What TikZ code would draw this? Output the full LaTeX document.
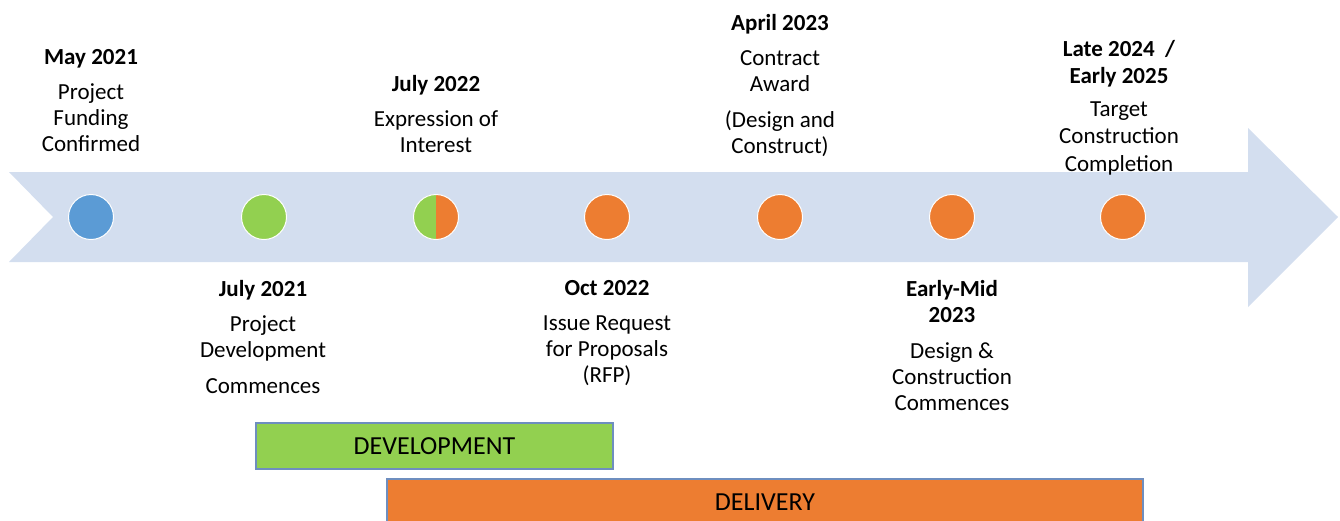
\documentclass[tikz,border=0pt]{standalone}
\usepackage{fontspec}
\setmainfont{Carlito}
\usepackage{xcolor}
\definecolor{band}{HTML}{D3DEEF}
\definecolor{mblue}{HTML}{5B9BD5}
\definecolor{mgreen}{HTML}{92D050}
\definecolor{morange}{HTML}{ED7D31}
\definecolor{edge}{HTML}{6E8EBF}

\begin{document}
\begin{tikzpicture}[
                x=1pt, y=-1pt,
                dot/.style={circle, draw=white, line width=1pt, minimum size=45pt, inner sep=0pt},
                date/.style={anchor=north, align=center, inner sep=0pt, font=\fontsize{23}{26}\selectfont},
                phase/.style={draw=edge, line width=1.2pt, inner sep=0pt, font=\fontsize{26}{30}\selectfont},
            ]
                \useasboundingbox (0,0) rectangle (1340,520);
                \clip (0,0) rectangle (1340,520);

                % Timeline band
                \fill[band] (9,172) -- (1248,172) -- (1248,128) -- (1338,217) -- (1248,307)
                    -- (1248,262) -- (9,262) -- (53,217) -- cycle;

                % Milestones
                \node[dot, fill=mblue] (d1) at (91,217) {};
                \node[dot, fill=mgreen] (d2) at (264,217) {};
                \node[dot, fill=morange, path picture={\fill[mgreen] (path picture bounding box.south west) rectangle (path picture bounding box.north);}] (d3) at (436,217) {};
                \node[dot, fill=morange] (d4) at (607,217) {};
                \node[dot, fill=morange] (d5) at (780,217) {};
                \node[dot, fill=morange] (d6) at (952,217) {};
                \node[dot, fill=morange] (d7) at (1123,217) {};

                % Labels above
                \node[date] (t1) at (91,49) {\textbf{May 2021}\\[9pt]Project\\Funding\\Confirmed};
                \node[date] (t3) at (436,75) {\textbf{July 2022}\\[9pt]Expression of\\Interest};
                \node[date] (t5) at (780,14) {\textbf{April 2023}\\[9pt]Contract\\Award\\[10pt](Design and\\Construct)};
                \node[date] (t7) at (1119,40) {\textbf{Late 2024\ \ /}\\[1pt]\textbf{Early 2025}\\[7pt]Target\\[1pt]Construction\\[2pt]Completion};

                % Labels below
                \node[date] (t2) at (263,280) {\textbf{July 2021}\\[9pt]Project\\Development\\[10pt]Commences};
                \node[date] (t4) at (607,280) {\textbf{Oct 2022}\\[9pt]Issue Request\\for Proposals\\(RFP)};
                \node[date] (t6) at (952,280) {\textbf{Early-Mid}\\\textbf{2023}\\[10pt]Design \&\\Construction\\Commences};

                % Phases
                \node[phase, fill=mgreen, minimum width=357pt, minimum height=46pt] (dev) at (434.5,446) {DEVELOPMENT};
                \node[phase, fill=morange, minimum width=756pt, minimum height=46pt] (del) at (765,502) {DELIVERY};
            \end{tikzpicture}
\end{document}
